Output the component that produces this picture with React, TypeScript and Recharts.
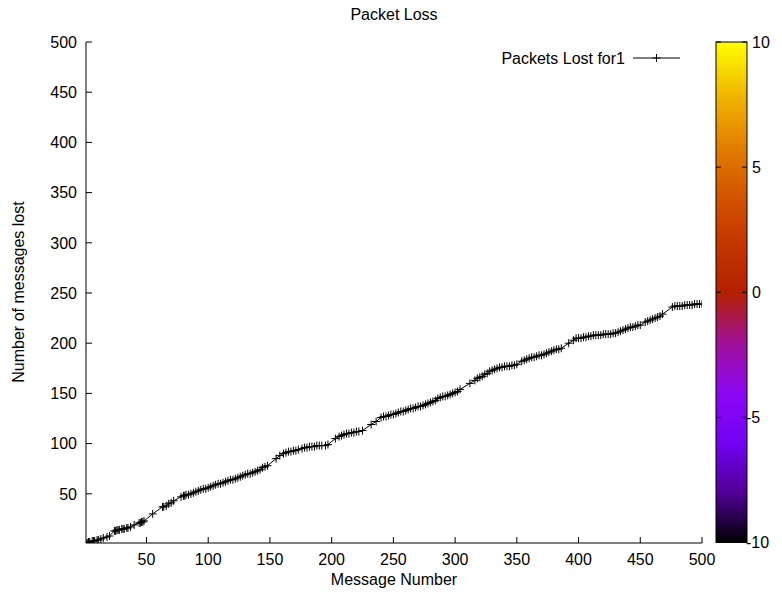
import React from "react";
import { LineChart, Line, XAxis, YAxis } from "recharts";

// message number of every message that arrived
const messageNumber = [
  1, 2, 3, 4, 6, 7, 8, 10, 11, 13, 15, 18, 20,
  24, 25, 26, 27, 28, 30, 31, 32, 34, 35, 37,
  40, 44, 45, 46, 47, 48,
  55, 63, 64, 66, 68, 70, 72,
  78, 80, 81, 82, 84, 86, 88, 90, 92, 94, 96, 98, 100, 102, 104, 106, 108, 110,
  112, 114, 116, 118, 120, 122, 124, 126, 128, 130, 132, 134, 136, 138, 140, 142, 144, 146, 148,
  155, 158, 161, 163, 165, 167, 169, 171, 173, 176, 178, 180, 182, 184, 186, 188, 190, 192, 195, 197,
  203, 206, 208, 210, 212, 214, 216, 218, 220, 222, 225,
  232, 236, 240, 242, 244, 246, 248, 250, 252, 254, 256, 258, 260, 262, 264, 266, 268, 270, 272,
  274, 276, 278, 280, 282, 284, 286, 288, 290, 292, 294, 296, 298, 300, 302, 304,
  312, 316, 318, 320, 322, 324, 326, 328, 330, 332, 334, 336, 338, 340, 342, 344, 346, 348, 350,
  354, 356, 358, 360, 362, 364, 366, 368, 370, 372, 374, 376, 378, 380, 382, 384, 386,
  392, 396, 398, 400, 402, 404, 406, 408, 410, 412, 414, 416, 418, 420, 422, 424, 426, 428, 430, 432,
  434, 436, 438, 440, 442, 444, 446, 448, 450,
  454, 456, 458, 460, 462, 464, 466, 468,
  476, 478, 480, 482, 484, 486, 488, 490, 492, 494, 496, 498, 500,
];

// running count of lost messages at that point
const messagesLost = [
  1, 1, 2, 2, 3, 3, 3, 4, 4, 5, 6, 7, 8,
  13, 13, 14, 14, 14, 15, 15, 15, 16, 16, 17,
  19, 21, 21, 22, 22, 23,
  30, 37, 37, 38, 40, 41, 43,
  47, 48, 48, 49, 49, 50, 51, 52, 53, 54, 55, 55, 56, 57, 58, 59, 60, 60,
  61, 62, 63, 64, 64, 65, 66, 67, 68, 69, 70, 70, 71, 72, 73, 74, 76, 77, 78,
  85, 88, 90, 91, 92, 92, 93, 93, 94, 95, 96, 96, 97, 97, 97, 98, 98, 98, 98, 99,
  105, 107, 108, 109, 110, 110, 111, 111, 112, 112, 113,
  119, 122, 126, 127, 127, 128, 129, 129, 130, 131, 132, 132, 133, 134, 135, 135, 136, 137, 137,
  138, 139, 140, 141, 142, 143, 145, 146, 147, 147, 148, 149, 150, 151, 152, 154,
  160, 163, 165, 166, 167, 169, 170, 172, 173, 174, 175, 176, 176, 177, 177, 177, 178, 178, 179,
  182, 183, 184, 185, 186, 186, 187, 188, 188, 189, 190, 191, 192, 193, 194, 194, 195,
  200, 203, 205, 205, 205, 206, 206, 207, 207, 208, 208, 208, 208, 209, 209, 209, 209, 210, 210, 211,
  212, 213, 214, 215, 216, 216, 217, 218, 218,
  221, 222, 223, 224, 225, 226, 227, 229,
  236, 237, 237, 237, 237, 238, 238, 238, 238, 239, 239, 239, 239,
];

const xTicks = [50, 100, 150, 200, 250, 300, 350, 400, 450, 500];
const yTicks = [50, 100, 150, 200, 250, 300, 350, 400, 450, 500];
const cbLabels = ["10", "5", "0", "-5", "-10"];

const data = messageNumber.map((m, i) => ({ msg: m, lost: messagesLost[i] }));

const FONT = "'Liberation Sans', Arial, Helvetica, sans-serif";
const TICK = 6;
const X_GAP = 11;
const Y_GAP = 9;

// gnuplot default palette (rgbformulae 7,5,15), bottom -> top
const paletteStops = [
  "#000000", "#510096", "#7202f3", "#8c07f3", "#a11096",
  "#b42000", "#c63700", "#d55700", "#e48300", "#f2ba00", "#ffff00",
];

// gnuplot draws its tics inside the frame, so tick lines are drawn by hand here
const BottomTick = (props: any) => {
  const { x, y, payload } = props;
  const axisY = y - X_GAP;
  return (
    <g>
      <line x1={x} y1={axisY} x2={x} y2={axisY - TICK} stroke="#000" />
      <text x={x} y={y} dy="0.71em" textAnchor="middle" fontSize={16} fontFamily={FONT} fill="#000">
        {payload.value}
      </text>
    </g>
  );
};

const TopTick = (props: any) => {
  const { x, y } = props;
  return <line x1={x} y1={y} x2={x} y2={y + TICK} stroke="#000" />;
};

const LeftTick = (props: any) => {
  const { x, y, payload } = props;
  const axisX = x + Y_GAP;
  return (
    <g>
      <line x1={axisX} y1={y} x2={axisX + TICK} y2={y} stroke="#000" />
      <text x={x} y={y} dy="0.36em" textAnchor="end" fontSize={16} fontFamily={FONT} fill="#000">
        {payload.value}
      </text>
    </g>
  );
};

const RightTick = (props: any) => {
  const { x, y } = props;
  return <line x1={x} y1={y} x2={x - TICK} y2={y} stroke="#000" />;
};

function PlusDot(props: any) {
  const { cx, cy, index } = props;
  if (cx == null || cy == null) return null;
  return (
    <path
      key={`p-${index}`}
      d={`M${cx - 4},${cy}H${cx + 4}M${cx},${cy - 4}V${cy + 4}`}
      stroke="#000"
      strokeWidth={1}
      fill="none"
    />
  );
}

function Overlay() {
  const cbTop = 42;
  const cbBottom = 542.5;
  const cbH = cbBottom - cbTop;
  return (
    <svg
      width={782}
      height={595}
      style={{ position: "absolute", left: 0, top: 0, pointerEvents: "none" }}
      fontFamily={FONT}
    >
      <defs>
        <linearGradient id="cbgrad" x1="0" y1="1" x2="0" y2="0">
          {paletteStops.map((c, i) => (
            <stop key={i} offset={`${(i / (paletteStops.length - 1)) * 100}%`} stopColor={c} />
          ))}
        </linearGradient>
      </defs>
      <text x={394} y={14} fontSize={16} textAnchor="middle" dominantBaseline="central">
        Packet Loss
      </text>
      <text x={394} y={579} fontSize={16} textAnchor="middle" dominantBaseline="central">
        Message Number
      </text>
      <text
        x={18}
        y={292}
        fontSize={16}
        textAnchor="middle"
        dominantBaseline="central"
        transform="rotate(-90 18 292)"
      >
        Number of messages lost
      </text>

      {/* key */}
      <text x={625} y={58} fontSize={16} textAnchor="end" dominantBaseline="central">
        Packets Lost for1
      </text>
      <line x1={633} y1={58} x2={680} y2={58} stroke="#000" strokeWidth={1} />
      <path d="M652.5,58H660.5M656.5,54V62" stroke="#000" strokeWidth={1} />

      {/* colour box */}
      <rect x={716} y={cbTop} width={31} height={cbH} fill="url(#cbgrad)" stroke="#000" strokeWidth={1} />
      {cbLabels.map((l, i) => {
        const y = cbTop + (i * cbH) / (cbLabels.length - 1);
        return (
          <g key={l}>
            <line x1={716} y1={y} x2={721} y2={y} stroke="#000" />
            <line x1={742} y1={y} x2={747} y2={y} stroke="#000" />
            <text x={l.startsWith("-") ? 746 : 752} y={y} fontSize={16} dominantBaseline="central">
              {l}
            </text>
          </g>
        );
      })}
    </svg>
  );
}

export default function App() {
  return (
    <div style={{ position: "absolute", left: 0, top: 0, width: 782, height: 595, background: "#fff" }}>
      <LineChart
        width={782}
        height={595}
        data={data}
        margin={{ top: 42, right: 80, bottom: 12, left: 26 }}
      >
        <XAxis
          dataKey="msg"
          type="number"
          domain={[1, 500]}
          ticks={xTicks}
          allowDataOverflow
          height={40}
          tickSize={0}
          tickMargin={X_GAP}
          tickLine={false}
          tick={BottomTick}
          axisLine={{ stroke: "#000" }}
        />
        <XAxis
          xAxisId="top"
          orientation="top"
          dataKey="msg"
          type="number"
          domain={[1, 500]}
          ticks={xTicks}
          allowDataOverflow
          height={0}
          tickSize={0}
          tickMargin={0}
          tickLine={false}
          tick={TopTick}
          axisLine={{ stroke: "#000" }}
        />
        <YAxis
          type="number"
          domain={[1, 500]}
          ticks={yTicks}
          allowDataOverflow
          width={60}
          tickSize={0}
          tickMargin={Y_GAP}
          tickLine={false}
          tick={LeftTick}
          axisLine={{ stroke: "#000" }}
        />
        <YAxis
          yAxisId="right"
          orientation="right"
          type="number"
          domain={[1, 500]}
          ticks={yTicks}
          allowDataOverflow
          width={0}
          tickSize={0}
          tickMargin={0}
          tickLine={false}
          tick={RightTick}
          axisLine={{ stroke: "#000" }}
        />
        <Line
          dataKey="lost"
          type="linear"
          stroke="#000"
          strokeWidth={1}
          dot={PlusDot}
          activeDot={false}
          isAnimationActive={false}
        />
      </LineChart>
      <Overlay />
    </div>
  );
}
